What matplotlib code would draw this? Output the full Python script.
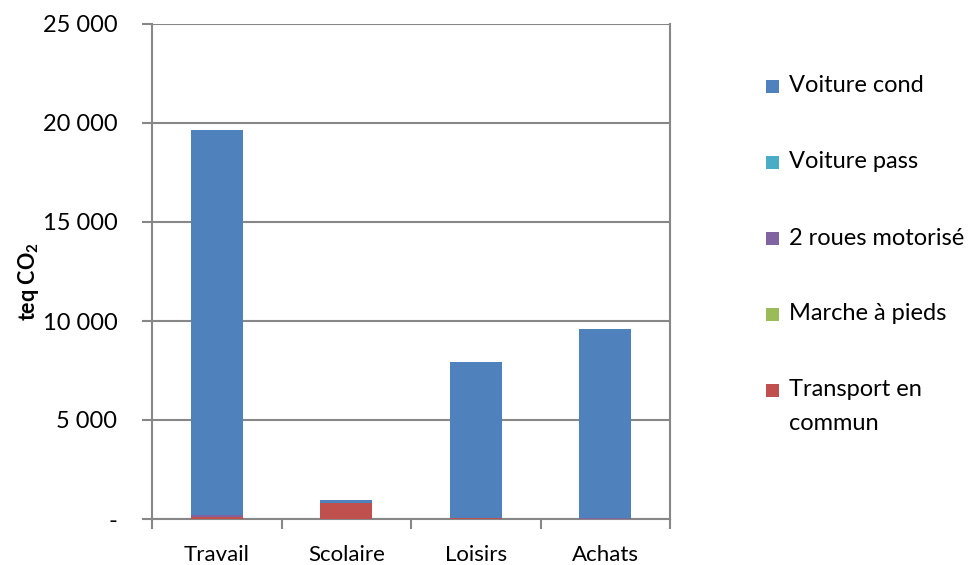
import matplotlib
matplotlib.use("Agg")
import matplotlib.pyplot as plt
import numpy as np
from matplotlib.patches import Rectangle
from matplotlib.ticker import FuncFormatter

plt.rcParams['font.family'] = ['Lato', 'DejaVu Sans']
plt.rcParams['mathtext.fontset'] = 'custom'
plt.rcParams['mathtext.rm'] = 'Lato'
plt.rcParams['mathtext.bf'] = 'Lato:bold'

categories = ["Travail", "Scolaire", "Loisirs", "Achats"]
transport_commun = [100, 820, 30, 20]
marche_pieds = [0, 0, 0, 0]
deux_roues = [80, 10, 20, 20]
voiture_pass = [0, 0, 0, 0]
voiture_cond = [19450, 130, 7900, 9560]

series = [
    ("Transport en\ncommun", transport_commun, "#C0504D"),
    ("Marche à pieds", marche_pieds, "#9BBB59"),
    ("2 roues motorisé", deux_roues, "#8064A2"),
    ("Voiture pass", voiture_pass, "#4BACC6"),
    ("Voiture cond", voiture_cond, "#4F81BD"),
]

W, H = 972, 565
fig = plt.figure(figsize=(W / 100, H / 100), dpi=100)
ax = fig.add_axes([152 / W, 1 - 519 / H, (670 - 152) / W, (519 - 24) / H])

x = np.arange(len(categories))
bottom = np.zeros(len(categories))
for label, vals, color in series:
    vals = np.array(vals, dtype=float)
    ax.bar(x, vals, 0.4, bottom=bottom, color=color, zorder=3)
    bottom += vals

ax.set_xlim(-0.5, len(categories) - 0.5)
ax.set_ylim(0, 25000)
ax.set_yticks(np.arange(0, 25001, 5000))
ax.yaxis.set_major_formatter(FuncFormatter(
    lambda v, p: "-" if v == 0 else f"{int(v):,}".replace(",", " ")))
ax.grid(axis="y", color="#878787", linewidth=1.5, zorder=0)

ax.set_xticks(x)
ax.set_xticklabels(categories)
ax.set_xticks(np.arange(-0.5, len(categories), 1.0), minor=True)
ax.tick_params(axis="x", which="major", length=0, pad=19, labelsize=16)
ax.tick_params(axis="x", which="minor", length=7, width=1.5, color="#878787")
ax.tick_params(axis="y", length=7, width=1.5, color="#878787", labelsize=17, pad=18)

for side in ["left", "right", "bottom", "top"]:
    ax.spines[side].set_color("#878787")
    ax.spines[side].set_linewidth(1.5)
ax.spines["top"].set_visible(False)

ax.set_ylabel(r"teq CO$_\mathbf{2}$", fontsize=15.5, fontweight="bold")
ax.yaxis.set_label_coords(-0.215, 0.48)

# legend drawn as squares with labels, top entry = top of stack
LFS = 17
for i, (label, vals, color) in enumerate(reversed(series)):
    yc = 86 + 76 * i
    fig.add_artist(Rectangle((766 / W, 1 - (yc + 7) / H), 13 / W, 13 / H,
                             transform=fig.transFigure, facecolor=color, edgecolor="none"))
    first, *rest = label.split("\n")
    fig.text(789 / W, 1 - yc / H, first, fontsize=LFS, va="center", ha="left")
    for j, line in enumerate(rest, start=1):
        fig.text(789 / W, 1 - (yc + 34 * j) / H, line, fontsize=LFS, va="center", ha="left")

fig.savefig("out.png", dpi=100)
